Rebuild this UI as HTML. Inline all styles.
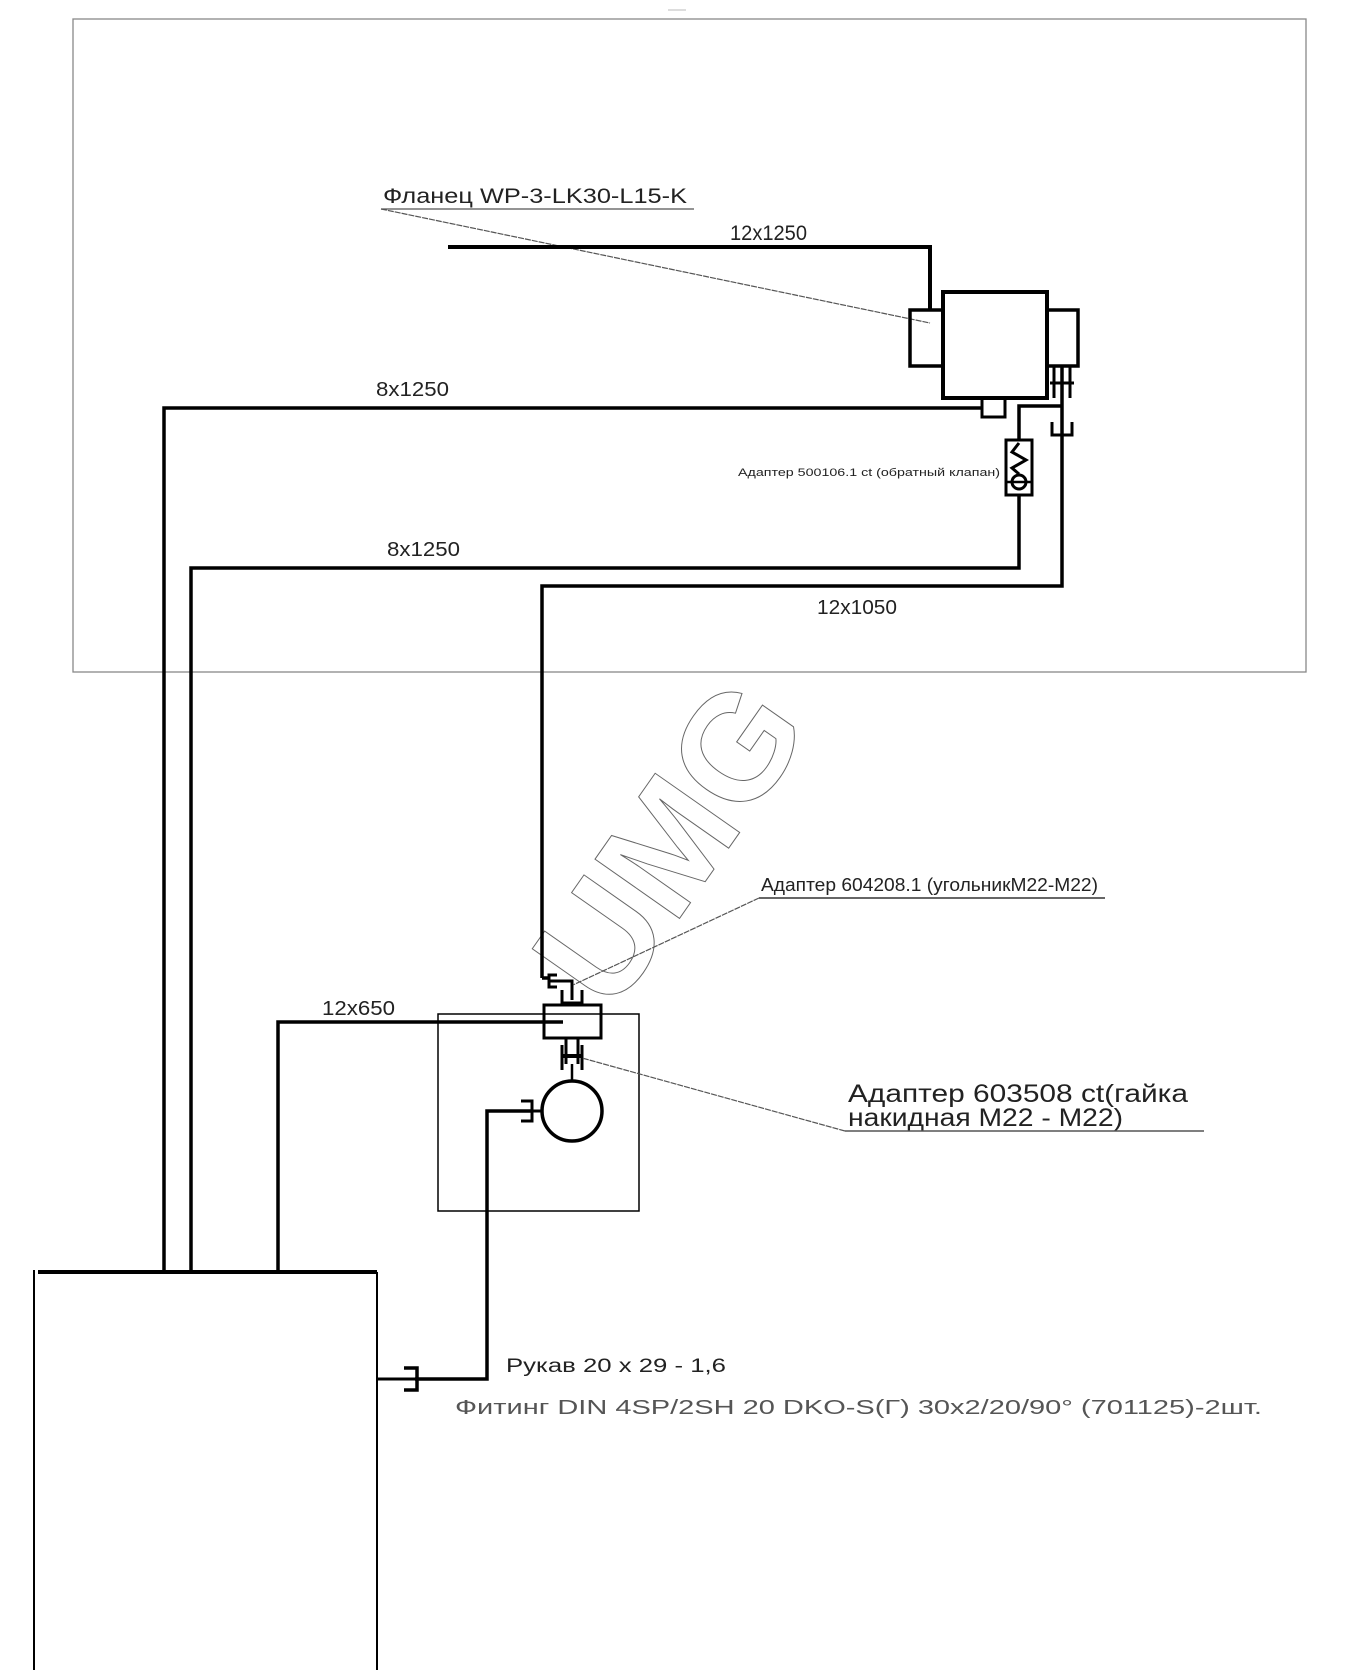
<!DOCTYPE html>
<html><head><meta charset="utf-8"><style>
html,body{margin:0;padding:0;background:#fff;}
svg{display:block;}
text{font-family:"Liberation Sans",sans-serif;fill:#222;}
</style></head><body>
<svg width="1352" height="1680" viewBox="0 0 1352 1680" xmlns="http://www.w3.org/2000/svg">
<!-- frame -->
<rect x="73" y="19" width="1233" height="653" fill="none" stroke="#888" stroke-width="1.3"/>
<line x1="668" y1="10" x2="686" y2="10" stroke="#bbb" stroke-width="1"/>

<!-- watermark -->
<text x="0" y="0" transform="translate(712,872) rotate(-55)" text-anchor="middle" font-size="150" font-weight="bold" style="fill:none;stroke:#666;stroke-width:1">UMG</text>

<!-- flange label -->
<text x="383" y="203" font-size="21" textLength="304" lengthAdjust="spacingAndGlyphs">Фланец  WP-3-LK30-L15-K</text>
<line x1="381" y1="209" x2="694" y2="209" stroke="#555" stroke-width="1.3"/>
<line x1="381" y1="209" x2="930" y2="323" stroke="#555" stroke-width="1.2" stroke-dasharray="6,1"/>

<g stroke="#000" stroke-width="4" fill="none">
<polyline points="448,247 930,247 930,310"/>
<rect x="943" y="292" width="104" height="106" stroke-width="4"/>
<rect x="910" y="310" width="33" height="56" stroke-width="3.5"/>
<rect x="1047" y="310" width="31" height="56" stroke-width="3.5"/>
<polyline points="982,398 982,417 1005,417 1005,398" stroke-width="3"/>
<polyline points="982,408 164,408 164,1272" stroke-width="3.5"/>
<polyline points="1062,366 1062,586 542,586 542,978" stroke-width="3.5"/>
<line x1="1054" y1="366" x2="1054" y2="398" stroke-width="3"/>
<line x1="1070" y1="366" x2="1070" y2="398" stroke-width="3"/>
<line x1="1050" y1="383" x2="1074" y2="383" stroke-width="3"/>
<polyline points="1052,422 1052,435 1072,435 1072,422" stroke-width="3"/>
<polyline points="1062,406 1019,406 1019,568 191,568 191,1272" stroke-width="3.5"/>
<rect x="1006" y="440" width="26" height="55" fill="#fff" stroke-width="3"/>
<polyline points="1019,443 1012,452 1026,460 1012,468 1019,474" stroke-width="3"/>
<circle cx="1019" cy="482" r="7" stroke-width="3"/>
<line x1="1006" y1="482" x2="1032" y2="482" stroke-width="2.5"/>
<polyline points="542,978 549,978" stroke-width="3.5"/>
<path d="M557,975 L549,975 L549,987 L557,987" stroke-width="3"/>
<polyline points="549,981 572,981 572,1000" stroke-width="3"/>
<polyline points="562,990 562,1003 582,1003 582,990" stroke-width="3"/>
<rect x="544" y="1005" width="57" height="33" stroke-width="3"/>
<polyline points="563,1022 278,1022 278,1272" stroke-width="3.5"/>
<line x1="566" y1="1038" x2="566" y2="1064" stroke-width="3"/>
<line x1="578" y1="1038" x2="578" y2="1064" stroke-width="3"/>
<line x1="562" y1="1056" x2="582" y2="1056" stroke-width="4"/>
<line x1="562" y1="1045" x2="562" y2="1070" stroke-width="3"/>
<line x1="582" y1="1045" x2="582" y2="1070" stroke-width="3"/>
<line x1="572" y1="1064" x2="572" y2="1081" stroke-width="2.5"/>
<circle cx="572" cy="1111" r="30" stroke-width="3.5"/>
<path d="M521,1101 L532,1101 L532,1121 L521,1121" stroke-width="3"/>
<line x1="532" y1="1111" x2="542" y2="1111" stroke-width="3"/>
<polyline points="532,1111 487,1111 487,1379 415,1379" stroke-width="3.5"/>
<path d="M404,1368 L417,1368 L417,1390 L404,1390" stroke-width="3.5"/>
<line x1="377" y1="1379" x2="417" y2="1379" stroke-width="3"/>
</g>

<rect x="438" y="1014" width="201" height="197" fill="none" stroke="#000" stroke-width="1.5"/>
<line x1="38" y1="1272" x2="377" y2="1272" stroke="#000" stroke-width="4"/>
<line x1="34" y1="1270" x2="34" y2="1670" stroke="#000" stroke-width="2"/>
<line x1="377" y1="1272" x2="377" y2="1670" stroke="#000" stroke-width="2"/>

<text x="730" y="240" font-size="21" textLength="77" lengthAdjust="spacingAndGlyphs">12x1250</text>
<text x="376" y="396" font-size="20" textLength="73" lengthAdjust="spacingAndGlyphs">8x1250</text>
<text x="387" y="556" font-size="20" textLength="73" lengthAdjust="spacingAndGlyphs">8x1250</text>
<text x="817" y="614" font-size="20" textLength="80" lengthAdjust="spacingAndGlyphs">12x1050</text>
<text x="322" y="1015" font-size="20" textLength="73" lengthAdjust="spacingAndGlyphs">12x650</text>
<text x="738" y="476" font-size="11" textLength="262" lengthAdjust="spacingAndGlyphs">Адаптер 500106.1 ct (обратный клапан)</text>

<text x="761" y="891" font-size="18" textLength="337" lengthAdjust="spacingAndGlyphs">Адаптер 604208.1 (угольникМ22-М22)</text>
<line x1="759" y1="898" x2="1105" y2="898" stroke="#333" stroke-width="1.5"/>
<line x1="759" y1="898" x2="573" y2="985" stroke="#555" stroke-width="1.2" stroke-dasharray="6,1"/>

<text x="848" y="1102" font-size="25" textLength="340" lengthAdjust="spacingAndGlyphs">Адаптер 603508 ct(гайка</text>
<text x="848" y="1126" font-size="25" textLength="275" lengthAdjust="spacingAndGlyphs">накидная М22 - М22)</text>
<line x1="845" y1="1131" x2="1204" y2="1131" stroke="#555" stroke-width="1.5"/>
<line x1="845" y1="1131" x2="582" y2="1058" stroke="#555" stroke-width="1.2" stroke-dasharray="6,1"/>

<text x="506" y="1372" font-size="19" textLength="220" lengthAdjust="spacingAndGlyphs">Рукав 20 х 29 - 1,6</text>
<text x="455" y="1414" font-size="20" textLength="807" lengthAdjust="spacingAndGlyphs" style="fill:#555">Фитинг DIN 4SP/2SH 20 DKO-S(Г) 30x2/20/90° (701125)-2шт.</text>
</svg>
</body></html>
